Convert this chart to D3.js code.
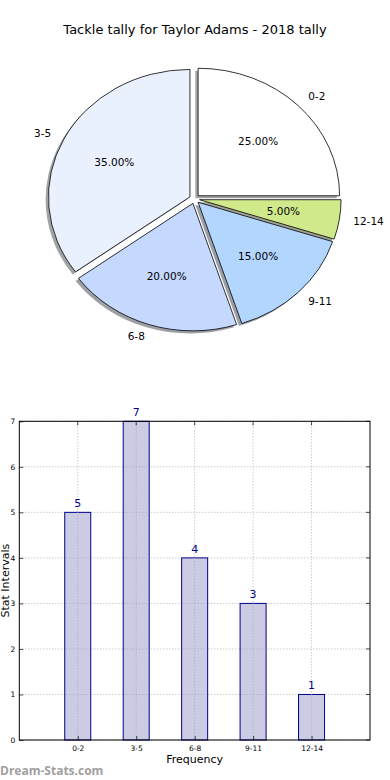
<!DOCTYPE html>
<html><head><meta charset="utf-8">
<script src="https://cdn.jsdelivr.net/npm/d3@7"></script>
<style>
html,body{margin:0;padding:0;background:#fff;}
svg{display:block;font-family:"DejaVu Sans",sans-serif;}
</style></head>
<body>
<script>
const categories = ["0-2","3-5","6-8","9-11","12-14"];
const counts = [5,7,4,3,1];
const pieColors = ["#ffffff","#eaf1fe","#c5d8fe","#b3d6fe","#cfe98b"];
const yTicks = [0,1,2,3,4,5,6,7];
const title = "Tackle tally for Taylor Adams - 2018 tally";

const W = 390, H = 780;
const svg = d3.select("body").append("svg").attr("width", W).attr("height", H);

// ---------- Title ----------
svg.append("text").attr("x", 195).attr("y", 34).attr("text-anchor","middle")
  .attr("font-size", 13).attr("fill","#000").text(title);

// ---------- Pie ----------
const cx = 194.5, cy = 199, rx = 141.5, ry = 127.5, explode = 0.036;
const total = d3.sum(counts);
const pie = d3.pie().sort(null).value(d => d)
  .startAngle(Math.PI/2).endAngle(Math.PI/2 - 2*Math.PI);
const arcs = pie(counts);
const arcGen = d3.arc().innerRadius(0).outerRadius(1);
function center(a){
  const m = (a.startAngle + a.endAngle)/2;
  return [cx + explode*rx*Math.sin(m), cy - explode*ry*Math.cos(m), m];
}
const pg = svg.append("g");
// shadows
arcs.forEach((a,i) => {
  const [x,y] = center(a);
  const c = d3.rgb(pieColors[i]);
  pg.append("path").attr("d", arcGen(a))
    .attr("transform", `translate(${x-2.8},${y+2.6}) scale(${rx},${ry})`)
    .attr("fill", d3.rgb(c.r*0.3,c.g*0.3,c.b*0.3)).attr("fill-opacity",0.5);
});
arcs.forEach((a,i) => {
  const [x,y] = center(a);
  pg.append("path").attr("d", arcGen(a))
    .attr("transform", `translate(${x},${y}) scale(${rx},${ry})`)
    .attr("fill", pieColors[i]).attr("stroke","#000").attr("stroke-width",0.8)
    .attr("vector-effect","non-scaling-stroke").attr("stroke-linejoin","miter");
});
arcs.forEach((a,i) => {
  const [x,y,m] = center(a);
  const sx = Math.sin(m), sy = -Math.cos(m);
  const lx = x + 1.1*rx*sx, ly = y + 1.1*ry*sy;
  pg.append("text").attr("x", lx).attr("y", ly).attr("dy","0.35em")
    .attr("text-anchor", sx > 0 ? "start" : "end")
    .attr("font-size", 10.5).text(categories[i]);
  const px = x + 0.6*rx*sx, py = y + 0.6*ry*sy;
  pg.append("text").attr("x", px).attr("y", py).attr("dy","0.35em")
    .attr("text-anchor","middle").attr("font-size", 10.5)
    .text((counts[i]/total*100).toFixed(2) + "%");
});

// ---------- Bar chart ----------
const L = 19.3, R = 370, T = 421.3, B = 740;
const x = d3.scalePoint().domain(categories).range([L, R]).padding(1);
const y = d3.scaleLinear().domain([0,7]).range([B, T]);
const bw = x.step()*0.445;
const bg = svg.append("g");

// grid
bg.selectAll(".gy").data(yTicks).join("line")
  .attr("x1", L).attr("x2", R).attr("y1", d => y(d)).attr("y2", d => y(d))
  .attr("stroke","#b5b5b5").attr("stroke-width",1).attr("stroke-dasharray","1,2");
bg.selectAll(".gx").data(categories).join("line")
  .attr("x1", d => x(d)).attr("x2", d => x(d)).attr("y1", T).attr("y2", B)
  .attr("stroke","#b5b5b5").attr("stroke-width",1).attr("stroke-dasharray","1,2");

// bars
bg.selectAll(".bar").data(counts).join("rect")
  .attr("x", (d,i) => x(categories[i]) - bw/2).attr("width", bw)
  .attr("y", d => y(d)).attr("height", d => B - y(d))
  .attr("fill","#cbcce3").attr("stroke","#00008b").attr("stroke-width",1);
// grid over bars (dotted visible through)
bg.selectAll(".gx2").data(categories).join("line")
  .attr("x1", d => x(d)).attr("x2", d => x(d)).attr("y1", (d,i)=>y(counts[i])).attr("y2", B)
  .attr("stroke","#a9a9bd").attr("stroke-width",1).attr("stroke-dasharray","1,2");
bg.selectAll(".gy2").data(yTicks.filter(t=>t>0)).join("g").each(function(t){
  const g = d3.select(this);
  counts.forEach((c,i) => {
    if (c > t) g.append("line").attr("x1", x(categories[i])-bw/2+1).attr("x2", x(categories[i])+bw/2-1)
      .attr("y1", y(t)).attr("y2", y(t)).attr("stroke","#a9a9bd").attr("stroke-dasharray","1,2");
  });
});

// value labels
bg.selectAll(".val").data(counts).join("text")
  .attr("x", (d,i) => x(categories[i])).attr("y", d => y(d) - 5)
  .attr("text-anchor","middle").attr("font-size", 11).attr("fill","#00008b")
  .text(d => d);

// frame
bg.append("rect").attr("x", L).attr("y", T).attr("width", R-L).attr("height", B-T)
  .attr("fill","none").attr("stroke","#000").attr("stroke-width",1);

// axes
const xAxis = d3.axisBottom(x).tickSizeInner(-4).tickSizeOuter(0).tickPadding(6);
const xg = bg.append("g").attr("transform", `translate(0,${B})`).call(xAxis);
const yAxis = d3.axisLeft(y).tickValues(yTicks).tickFormat(d3.format("d")).tickSizeInner(-4).tickSizeOuter(0).tickPadding(4);
const yg = bg.append("g").attr("transform", `translate(${L},0)`).call(yAxis);
[xg, yg].forEach(g => {
  g.select(".domain").remove();
  g.selectAll("line").attr("stroke","#000").attr("stroke-width",0.7);
  g.selectAll("text").attr("font-size", 7.5).attr("font-family","DejaVu Sans").attr("fill","#000");
});
// ticks on top/right
bg.selectAll(".tt").data(categories).join("line")
  .attr("x1", d=>x(d)).attr("x2", d=>x(d)).attr("y1", T).attr("y2", T+4).attr("stroke","#000").attr("stroke-width",0.7);
bg.selectAll(".tr").data(yTicks).join("line")
  .attr("x1", R).attr("x2", R-4).attr("y1", d=>y(d)).attr("y2", d=>y(d)).attr("stroke","#000").attr("stroke-width",0.7);

// axis labels
bg.append("text").attr("x", (L+R)/2).attr("y", 763).attr("text-anchor","middle")
  .attr("font-size", 11).text("Frequency");
bg.append("text").attr("transform", `translate(9,${(T+B)/2}) rotate(-90)`)
  .attr("text-anchor","middle").attr("font-size", 11).text("Stat Intervals");

// watermark
svg.append("text").attr("x", 0).attr("y", 775).attr("font-size", 12).attr("font-weight","bold")
  .attr("fill","#a0a0a0").attr("font-family","'Open Sans',sans-serif").text("Dream-Stats.com");
</script>
</body></html>
